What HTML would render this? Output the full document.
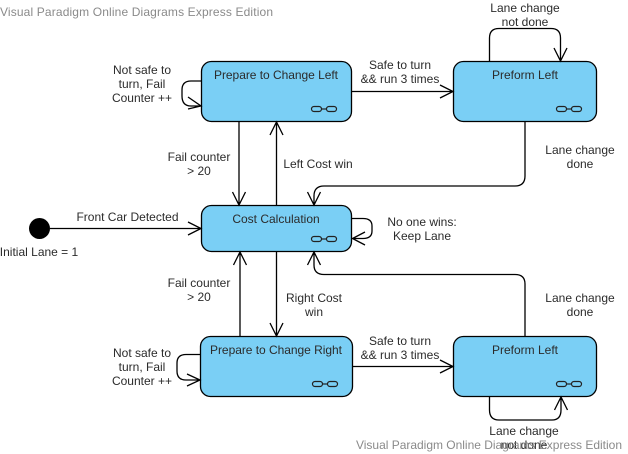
<!DOCTYPE html>
<html><head><meta charset="utf-8"><style>
html,body{margin:0;padding:0;background:#fff}
svg{display:block}
text{font-family:"Liberation Sans",sans-serif;font-size:12px;fill:#2b2b2b;text-anchor:middle}
.w{fill:#8a8a8a;text-anchor:start}
.n{fill:#7acff5;stroke:#000;stroke-width:1.3}
.l{fill:none;stroke:#000;stroke-width:1.3}
.t{fill:none;stroke:#222;stroke-width:1.2}
</style></head><body>
<svg width="628" height="454" viewBox="0 0 628 454" xmlns="http://www.w3.org/2000/svg">
<text class="w" x="0" y="16" textLength="273" lengthAdjust="spacing">Visual Paradigm Online Diagrams Express Edition</text>

<rect class="n" x="201.5" y="61.5" width="150" height="60" rx="10"/>
<rect class="n" x="453.5" y="61.5" width="143" height="60" rx="10"/>
<rect class="n" x="201.5" y="205.5" width="150" height="46" rx="10"/>
<rect class="n" x="200.5" y="336.5" width="152" height="60" rx="10"/>
<rect class="n" x="453.5" y="336.5" width="143" height="60" rx="10"/>

<g class="t">
<rect x="311.500" y="106.500" width="10" height="5" rx="2.500"/><rect x="326.500" y="106.500" width="10" height="5" rx="2.500"/><path d="M321.500 109H326.500"/>
<rect x="556.500" y="106.500" width="10" height="5" rx="2.500"/><rect x="571.500" y="106.500" width="10" height="5" rx="2.500"/><path d="M566.500 109H571.500"/>
<rect x="311.500" y="236.500" width="10" height="5" rx="2.500"/><rect x="326.500" y="236.500" width="10" height="5" rx="2.500"/><path d="M321.500 239H326.500"/>
<rect x="312.500" y="381.500" width="10" height="5" rx="2.500"/><rect x="327.500" y="381.500" width="10" height="5" rx="2.500"/><path d="M322.500 384H327.500"/>
<rect x="556.500" y="381.500" width="10" height="5" rx="2.500"/><rect x="571.500" y="381.500" width="10" height="5" rx="2.500"/><path d="M566.500 384H571.500"/>
</g>

<circle cx="39.500" cy="228.500" r="10.500" fill="#000"/>
<g class="l">
<path d="M50 228.500H201M188 222L201 228.500L188 235"/>
<path d="M351.500 91.500H453M440 85L453 91.500L440 98"/>
<path d="M352.500 366.500H453M440 360L453 366.500L440 373"/>
<path d="M239 121.500V205M232.500 192L239 205L245.500 192"/>
<path d="M276.500 205.500V122M270 135L276.500 122L283 135"/>
<path d="M240 336.500V252M233.500 265L240 252L246.500 265"/>
<path d="M276.500 251.500V336M270 323L276.500 336L283 323"/>
<path d="M201.500 81H191Q182 81 182 90V96Q182 106 191 106H201M188 97L201 106L188 109"/>
<path d="M200.500 354.500H186Q177 354.500 177 363V371Q177 380 186 380H200M187 374L200 380L187 386"/>
<path d="M351.500 218.500H363Q372 218.500 372 226V231Q372 238.500 363 238.500H352.500M365 232L352.500 238.500L365 245"/>
<path d="M489.500 61.500V38Q489.500 28.500 499 28.500H551Q560.500 28.500 560.500 38V61M554 48L560.500 61L567 48"/>
<path d="M489.500 396.500V410Q489.500 420 499 420H552Q561 420 561 410V397M554.500 410L561 397L567.500 410"/>
<path d="M525 121.500V176Q525 186 515 186H324Q314 186 314 196V205M307.500 192L314 205L320.500 192"/>
<path d="M525 336.500V284Q525 274.500 515 274.500H324Q314 274.500 314 265V252M307.500 265L314 252L320.500 265"/>
</g>

<text x="276" y="79" textLength="124" lengthAdjust="spacing">Prepare to Change Left</text>
<text x="525" y="79">Preform Left</text>
<text x="276" y="223">Cost Calculation</text>
<text x="276" y="354" textLength="132" lengthAdjust="spacing">Prepare to Change Right</text>
<text x="525" y="354">Preform Left</text>

<text x="142" y="74">Not safe to</text><text x="142" y="88">turn, Fail</text><text x="142" y="102">Counter ++</text>
<text x="199" y="161">Fail counter</text><text x="199" y="175">&gt; 20</text>
<text x="318" y="168">Left Cost win</text>
<text x="400" y="69">Safe to turn</text><text x="400" y="83">&amp;&amp; run 3 times</text>
<text x="525" y="12">Lane change</text><text x="525" y="26">not done</text>
<text x="580" y="154">Lane change</text><text x="580" y="168">done</text>
<text x="127.500" y="221">Front Car Detected</text>
<text x="39" y="256">Initial Lane = 1</text>
<text x="422" y="226">No one wins:</text><text x="422" y="240">Keep Lane</text>
<text x="199" y="287">Fail counter</text><text x="199" y="301">&gt; 20</text>
<text x="314" y="302">Right Cost</text><text x="314" y="316">win</text>
<text x="142" y="357">Not safe to</text><text x="142" y="371">turn, Fail</text><text x="142" y="385">Counter ++</text>
<text x="400" y="345">Safe to turn</text><text x="400" y="359">&amp;&amp; run 3 times</text>
<text x="580" y="302">Lane change</text><text x="580" y="316">done</text>
<text x="524" y="435">Lane change</text><text x="524" y="449">not done</text>
<text class="w" x="356" y="449" textLength="266" lengthAdjust="spacing">Visual Paradigm Online Diagrams Express Edition</text>
</svg>
</body></html>
